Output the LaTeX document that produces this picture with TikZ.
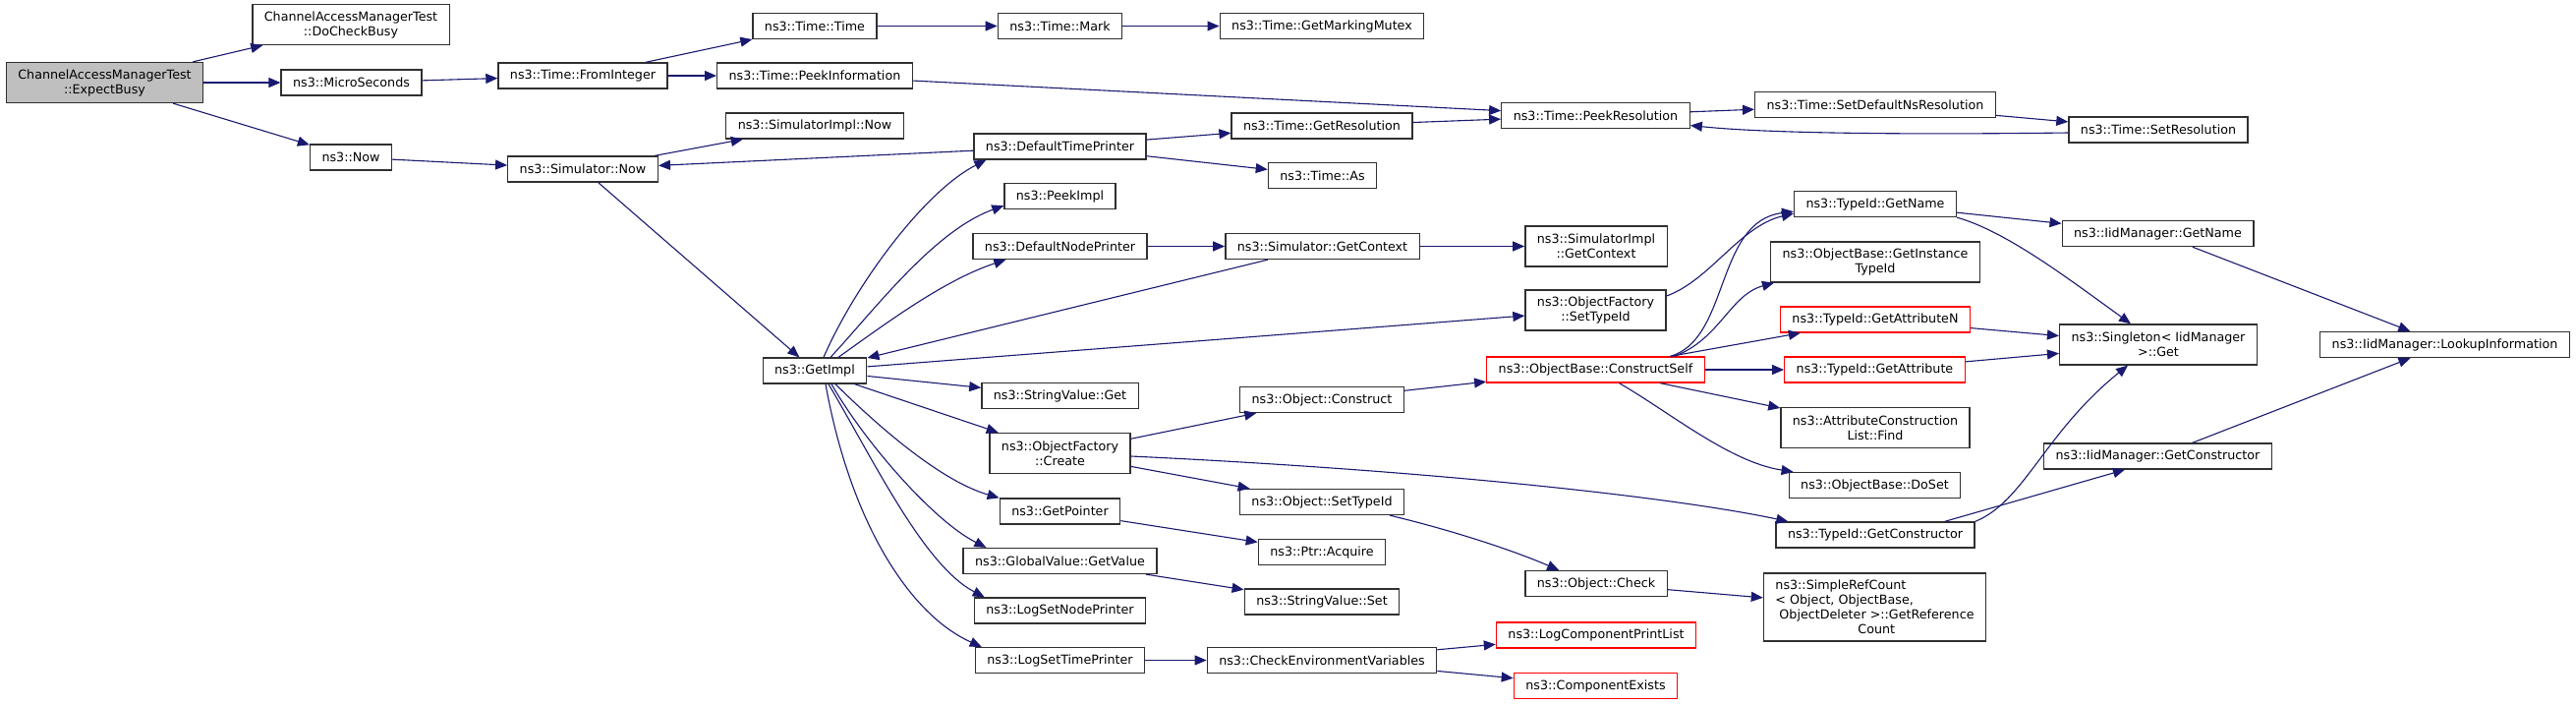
\documentclass[tikz,border=0pt]{standalone}
\usepackage{fontspec}
\setmainfont{DejaVu Sans}
\usetikzlibrary{arrows.meta,positioning}
\definecolor{edgeblue}{RGB}{25,25,112}
\definecolor{rootgray}{RGB}{191,191,191}
\definecolor{boxgray}{RGB}{48,48,48}
\tikzset{fn/.style={draw=boxgray, line width=1.3pt, fill=white, inner xsep=12pt, inner ysep=0pt,
                    minimum height=26pt, align=center, font=\fontsize{12.7}{15}\selectfont},
         root/.style={fn, fill=rootgray},
         trunc/.style={fn, draw=red},
         two/.style={minimum height=41pt},
         four/.style={minimum height=69pt, align=left},
         call/.style={draw=edgeblue, line width=1.1pt, -{Triangle[length=12pt,width=10pt]}}}

\begin{document}
\begin{tikzpicture}[x=1pt,y=-1pt]
\useasboundingbox (0,0) rectangle (2621,716);

\node[root,two] (eb) at (106.5,84) {ChannelAccessManagerTest\\::ExpectBusy};
\node[fn,two] (dcb) at (357,25) {ChannelAccessManagerTest\\::DoCheckBusy};
\node[fn] (micro) at (357.5,84) {ns3::MicroSeconds};
\node[fn] (now) at (357,160) {ns3::Now};
\node[fn] (fromint) at (593,77) {ns3::Time::FromInteger};
\node[fn] (simnow) at (593,172) {ns3::Simulator::Now};
\node[fn] (ttime) at (829,26.5) {ns3::Time::Time};
\node[fn] (peekinfo) at (829,77) {ns3::Time::PeekInformation};
\node[fn] (implnow) at (829,128) {ns3::SimulatorImpl::Now};
\node[fn] (getimpl) at (829,377) {ns3::GetImpl};
\node[fn] (mark) at (1078.5,26.5) {ns3::Time::Mark};
\node[fn] (dtp) at (1078.5,149) {ns3::DefaultTimePrinter};
\node[fn] (peekimpl) at (1078.5,199.5) {ns3::PeekImpl};
\node[fn] (dnp) at (1078.5,250.5) {ns3::DefaultNodePrinter};
\node[fn] (svget) at (1078.5,402.5) {ns3::StringValue::Get};
\node[fn,two] (create) at (1078.5,461) {ns3::ObjectFactory\\::Create};
\node[fn] (getptr) at (1078.5,520) {ns3::GetPointer};
\node[fn] (gvget) at (1078.5,570.5) {ns3::GlobalValue::GetValue};
\node[fn] (lsnp) at (1078.5,621) {ns3::LogSetNodePrinter};
\node[fn] (lstp) at (1078.5,671.5) {ns3::LogSetTimePrinter};
\node[fn] (mutex) at (1345,26.5) {ns3::Time::GetMarkingMutex};
\node[fn] (getres) at (1345,128) {ns3::Time::GetResolution};
\node[fn] (as) at (1345.5,178.5) {ns3::Time::As};
\node[fn] (getctx) at (1345.5,250.5) {ns3::Simulator::GetContext};
\node[fn] (construct) at (1345,406.5) {ns3::Object::Construct};
\node[fn] (osettid) at (1345,510.5) {ns3::Object::SetTypeId};
\node[fn] (acquire) at (1345,561.5) {ns3::Ptr::Acquire};
\node[fn] (svset) at (1345,612) {ns3::StringValue::Set};
\node[fn] (checkenv) at (1345,671.5) {ns3::CheckEnvironmentVariables};
\node[fn] (peekres) at (1623.5,117.5) {ns3::Time::PeekResolution};
\node[fn,two] (implctx) at (1624,250.5) {ns3::SimulatorImpl\\::GetContext};
\node[fn,two] (fsettid) at (1623.5,315.5) {ns3::ObjectFactory\\::SetTypeId};
\node[trunc] (cself) at (1623.5,376) {ns3::ObjectBase::ConstructSelf};
\node[fn] (check) at (1624,593.5) {ns3::Object::Check};
\node[trunc] (printlist) at (1624,646) {ns3::LogComponentPrintList};
\node[trunc] (exists) at (1623.5,697.5) {ns3::ComponentExists};
\node[fn] (nsres) at (1908,106.5) {ns3::Time::SetDefaultNsResolution};
\node[fn] (tgname) at (1908,207.5) {ns3::TypeId::GetName};
\node[fn,two] (insttid) at (1908,266.5) {ns3::ObjectBase::GetInstance\\TypeId};
\node[trunc] (attrn) at (1908,325) {ns3::TypeId::GetAttributeN};
\node[trunc] (attr) at (1907.5,376) {ns3::TypeId::GetAttribute};
\node[fn,two] (find) at (1908,435) {ns3::AttributeConstruction\\List::Find};
\node[fn] (doset) at (1907.5,493.5) {ns3::ObjectBase::DoSet};
\node[fn] (tgcons) at (1908,544) {ns3::TypeId::GetConstructor};
\node[fn,four] (refcount) at (1907.5,617.5) {ns3::SimpleRefCount\\< Object, ObjectBase,\\\hspace*{4pt}ObjectDeleter >::GetReference\\\hspace*{84pt}Count};
\node[fn] (setres) at (2196,132) {ns3::Time::SetResolution};
\node[fn] (igname) at (2195.5,237.5) {ns3::IidManager::GetName};
\node[fn,two] (sget) at (2196,350.5) {ns3::Singleton< IidManager\\>::Get};
\node[fn] (igcons) at (2195.5,464) {ns3::IidManager::GetConstructor};
\node[fn] (lookup) at (2487.5,350.5) {ns3::IidManager::LookupInformation};

% calls from the test
\draw[call] (eb) -- (dcb);
\draw[call] (eb) -- (micro);
\draw[call] (eb) -- (now);
\draw[call] (micro) -- (fromint);
\draw[call] (fromint) -- (ttime);
\draw[call] (fromint) -- (peekinfo);
\draw[call] (ttime) -- (mark);
\draw[call] (mark) -- (mutex);
\draw[call] (peekinfo) -- (peekres);
\draw[call] (now) -- (simnow);
\draw[call] (simnow) -- (implnow);
\draw[call] (simnow) -- (getimpl);
\draw[call] (dtp) -- (simnow);
\draw[call] (dtp) -- (getres);
\draw[call] (dtp) -- (as);
\draw[call] (getres) -- (peekres);
\draw[call] (peekres) -- (nsres);
\draw[call] (nsres) -- (setres);
\draw[call] ([yshift=-3pt]setres.west) .. controls (1950,137) and (1800,136) .. ([yshift=-10pt]peekres.east);

% calls from GetImpl
\draw[call] ([xshift=9pt]getimpl.north) .. controls (870,290) and (940,195) .. ([xshift=13pt]dtp.south west);
\draw[call] ([xshift=16pt]getimpl.north) .. controls (890,315) and (950,235) .. ([yshift=4pt]peekimpl.south west);
\draw[call] ([xshift=24pt]getimpl.north) .. controls (900,330) and (960,285) .. ([xshift=34pt]dnp.south west);
\draw[call] (getctx) -- (getimpl);
\draw[call] (getimpl) -- (fsettid);
\draw[call] (dnp) -- (getctx);
\draw[call] (getctx) -- (implctx);
\draw[call] (getimpl) -- (svget);
\draw[call] (getimpl) -- (create);
\draw[call] ([xshift=21pt]getimpl.south) .. controls (900,440) and (960,490) .. (getptr.north west);
\draw[call] ([xshift=17pt]getimpl.south) .. controls (880,450) and (950,530) .. ([xshift=24pt]gvget.north west);
\draw[call] ([xshift=14pt]getimpl.south) .. controls (890,470) and (940,575) .. ([xshift=11pt]lsnp.north west);
\draw[call] ([xshift=11pt]getimpl.south) .. controls (865,530) and (925,625) .. ([xshift=7pt]lstp.north west);

% right part
\draw[call] (create) -- (construct);
\draw[call] ([yshift=-3pt]create.east) .. controls (1450,478) and (1700,505) .. ([xshift=13pt]tgcons.north west);
\draw[call] (create) -- (osettid);
\draw[call] (getptr) -- (acquire);
\draw[call] (gvget) -- (svset);
\draw[call] (lstp) -- (checkenv);
\draw[call] (construct) -- (cself);
\draw[call] ([xshift=-15pt]osettid.south east) .. controls (1480,540) and (1540,560) .. ([xshift=35pt]check.north west);
\draw[call] (check) -- (refcount);
\draw[call] (checkenv) -- (printlist);
\draw[call] (checkenv) -- (exists);
\draw[call] ([yshift=14.5pt]fsettid.east) .. controls (1740,285) and (1770,230) .. ([yshift=4pt]tgname.south west);
\draw[call] ([xshift=76pt]cself.north) .. controls (1760,345) and (1745,225) .. ([yshift=6pt]tgname.south west);
\draw[call] ([xshift=80pt]cself.north) .. controls (1750,345) and (1760,300) .. ([xshift=4pt]insttid.south west);
\draw[call] (cself) -- (attrn);
\draw[call] (cself) -- (attr);
\draw[call] (cself) -- (find);
\draw[call] ([xshift=24pt]cself.south) .. controls (1700,420) and (1760,470) .. ([xshift=5pt]doset.north west);
\draw[call] (tgname) -- (igname);
\draw[call] (tgname.south east) .. controls (2040,235) and (2100,280) .. ([xshift=-28pt]sget.north);
\draw[call] (attrn) -- (sget);
\draw[call] (attr) -- (sget);
\draw[call] (tgcons.north east) .. controls (2060,510) and (2080,440) .. ([xshift=-31pt]sget.south);
\draw[call] ([xshift=-31pt]tgcons.north east) -- ([xshift=83pt]igcons.south west);
\draw[call] (igname) -- (lookup);
\draw[call] (igcons) -- (lookup);
\end{tikzpicture}
\end{document}
